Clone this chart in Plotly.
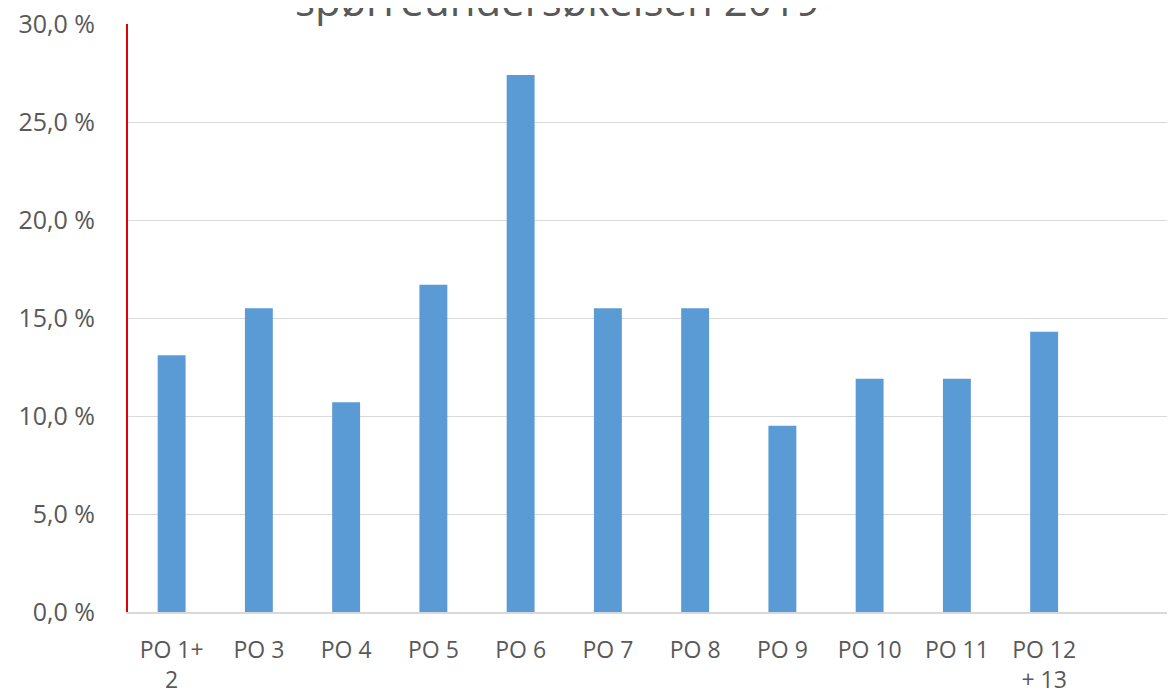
import plotly.graph_objects as go

categories = ["PO 1+<br>2", "PO 3", "PO 4", "PO 5", "PO 6", "PO 7", "PO 8",
              "PO 9", "PO 10", "PO 11", "PO 12<br>+ 13", " "]
values = [13.1, 15.5, 10.7, 16.7, 27.4, 15.5, 15.5, 9.5, 11.9, 11.9, 14.3, None]
tick_vals = [0, 5, 10, 15, 20, 25, 30]
tick_labels = ["0,0 %", "5,0 %", "10,0 %", "15,0 %", "20,0 %", "25,0 %", "30,0 %"]
title_text = "spørreundersøkelsen 2019"

fig = go.Figure(go.Bar(
    x=categories,
    y=values,
    width=0.32,
    marker=dict(color="#5b9bd5", line=dict(width=0)),
))

# title is partly cut off at the top of the picture
fig.add_annotation(
    text=title_text,
    xref="paper", yref="paper",
    x=0.41, y=1.0, yshift=-6,
    xanchor="center", yanchor="bottom",
    showarrow=False,
    font=dict(family="Open Sans", size=42, color="#595959"),
)

# page body has an 8px margin, so margins are reduced accordingly
fig.update_layout(
    width=1175, height=694,
    margin=dict(l=120, r=8, t=16, b=90),
    plot_bgcolor="white",
    paper_bgcolor="white",
    showlegend=False,
    bargap=0.68,
    font=dict(family="Open Sans", size=22, color="#595959"),
    xaxis=dict(
        automargin=False,
        showgrid=False,
        showline=True, linecolor="#d9d9d9", linewidth=2,
        ticks="", ticklabelstandoff=16,
        tickfont=dict(size=23, color="#595959"),
        ticklabeloverflow="allow",
        fixedrange=True,
    ),
    yaxis=dict(
        automargin=False,
        range=[0, 30],
        tickvals=tick_vals, ticktext=tick_labels,
        showgrid=True, gridcolor="#d9d9d9", gridwidth=1,
        showline=True, linecolor="#e00000", linewidth=2,
        zeroline=False,
        ticks="", ticklabelstandoff=26,
        ticklabeloverflow="allow",
        tickfont=dict(size=25, color="#595959"),
    ),
)

fig.write_html("out.html")
